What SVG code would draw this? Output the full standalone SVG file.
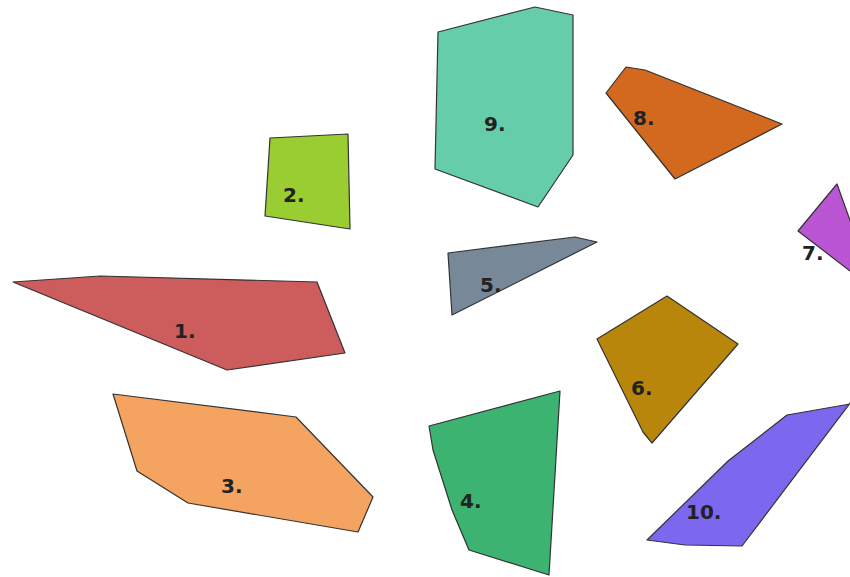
<svg xmlns="http://www.w3.org/2000/svg" width="850" height="577" viewBox="0 0 850 577">
<style>
.p{stroke:#333;stroke-width:1.2;stroke-linejoin:round}
.t{font-family:"DejaVu Sans",sans-serif;font-weight:bold;font-size:20px;fill:#222}
</style>
<rect width="850" height="577" fill="#fff"/>
<g id="p1"><polygon class="p" fill="#CD5C5C" points="13,282 100,276 317,282 345,353 227,370"/><text class="t" x="174" y="338">1.</text></g>
<g id="p2"><polygon class="p" fill="#9ACD32" points="270,138 348,134 350,229 265,216"/><text class="t" x="283" y="202">2.</text></g>
<g id="p3"><polygon class="p" fill="#F4A460" points="113,394 296,417 373,497 358,532 188,503 137,471"/><text class="t" x="221" y="493">3.</text></g>
<g id="p4"><polygon class="p" fill="#3CB371" points="429,426 560,391 549,575 469,550 452,510 433,450"/><text class="t" x="460" y="508">4.</text></g>
<g id="p5"><polygon class="p" fill="#778899" points="448,253 575,237 597,242 452,315"/><text class="t" x="480" y="292">5.</text></g>
<g id="p6"><polygon class="p" fill="#B8860B" points="667,296 738,344 652,443 643,432 597,339"/><text class="t" x="631" y="395">6.</text></g>
<g id="p7"><polygon class="p" fill="#BA55D3" points="837,184 860,248 880,294 798,231"/><text class="t" x="802" y="260">7.</text></g>
<g id="p8"><polygon class="p" fill="#D2691E" points="606,93 626,67 645,70 782,124 675,179"/><text class="t" x="633" y="125">8.</text></g>
<g id="p9"><polygon class="p" fill="#66CDAA" points="438,32 535,7 573,15 573,155 538,207 435,169"/><text class="t" x="484" y="131">9.</text></g>
<g id="p10"><polygon class="p" fill="#7B68EE" points="850,404 787,415 728,461 647,540 685,545 742,546 860,390"/><text class="t" x="686" y="519">10.</text></g>
</svg>
